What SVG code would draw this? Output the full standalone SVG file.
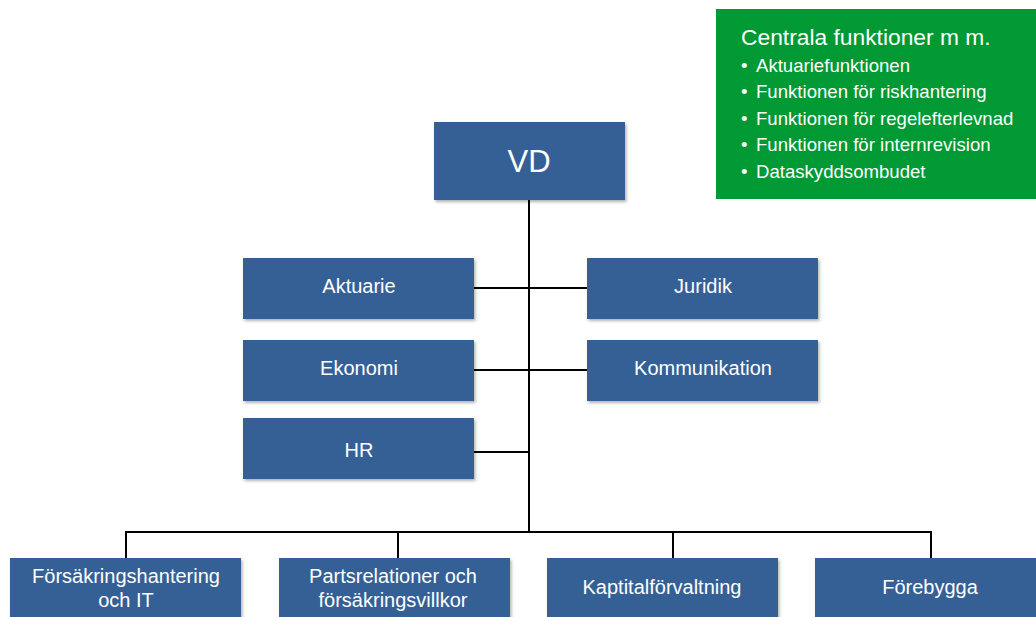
<svg xmlns="http://www.w3.org/2000/svg" width="1036" height="617" viewBox="0 0 1036 617">
<style>
.box{fill:#346195;filter:url(#sh)}
.lbl{font-family:"Liberation Sans",Arial,sans-serif;font-size:20px;fill:#ffffff;text-anchor:middle}
.gt{font-family:"Liberation Sans",Arial,sans-serif;fill:#ffffff}
.ln{stroke:#000000;stroke-width:2;fill:none}
</style>
<defs>
<filter id="sh" x="-5%" y="-10%" width="115%" height="130%">
<feDropShadow dx="1.5" dy="2" stdDeviation="1.5" flood-color="#000000" flood-opacity="0.3"/>
</filter>
</defs>
<rect width="1036" height="617" fill="#ffffff"/>
<g id="connectors">
<line class="ln" x1="529" y1="200" x2="529" y2="532"/>
<line class="ln" x1="474" y1="288" x2="587" y2="288"/>
<line class="ln" x1="474" y1="370" x2="587" y2="370"/>
<line class="ln" x1="474" y1="452" x2="529" y2="452"/>
<polyline class="ln" points="126,558 126,532 931,532 931,558"/>
<line class="ln" x1="398" y1="532" x2="398" y2="558"/>
<line class="ln" x1="673" y1="532" x2="673" y2="558"/>
</g>
<g id="central">
<rect x="716" y="9" width="320" height="190" fill="#009933"/>
<text class="gt" x="741" y="45" font-size="22.8">Centrala funktioner m m.</text>
<g font-size="18.6">
<text class="gt" x="741" y="72">•</text><text class="gt" x="756" y="72">Aktuariefunktionen</text>
<text class="gt" x="741" y="98">•</text><text class="gt" x="756" y="98">Funktionen för riskhantering</text>
<text class="gt" x="741" y="125">•</text><text class="gt" x="756" y="125">Funktionen för regelefterlevnad</text>
<text class="gt" x="741" y="151">•</text><text class="gt" x="756" y="151">Funktionen för internrevision</text>
<text class="gt" x="741" y="178">•</text><text class="gt" x="756" y="178">Dataskyddsombudet</text>
</g>
</g>
<g id="vd">
<rect class="box" x="434" y="122" width="191" height="78"/>
<text class="lbl" x="529" y="172" style="font-size:31px">VD</text>
</g>
<g id="aktuarie">
<rect class="box" x="243" y="258" width="231" height="61"/>
<text class="lbl" x="359" y="293">Aktuarie</text>
</g>
<g id="juridik">
<rect class="box" x="587" y="258" width="231" height="61"/>
<text class="lbl" x="703" y="293">Juridik</text>
</g>
<g id="ekonomi">
<rect class="box" x="243" y="340" width="231" height="61"/>
<text class="lbl" x="359" y="375">Ekonomi</text>
</g>
<g id="kommunikation">
<rect class="box" x="587" y="340" width="231" height="61"/>
<text class="lbl" x="703" y="375">Kommunikation</text>
</g>
<g id="hr">
<rect class="box" x="243" y="418" width="231" height="61"/>
<text class="lbl" x="359" y="457">HR</text>
</g>
<g id="forsakringshantering">
<rect class="box" x="10" y="558" width="231" height="65"/>
<text class="lbl" x="126" y="583">Försäkringshantering</text>
<text class="lbl" x="126" y="607">och IT</text>
</g>
<g id="partsrelationer">
<rect class="box" x="279" y="558" width="231" height="65"/>
<text class="lbl" x="393" y="583">Partsrelationer och</text>
<text class="lbl" x="393" y="607">försäkringsvillkor</text>
</g>
<g id="kapitalforvaltning">
<rect class="box" x="547" y="558" width="231" height="65"/>
<text class="lbl" x="662" y="594">Kaptitalförvaltning</text>
</g>
<g id="forebygga">
<rect class="box" x="815" y="558" width="231" height="65"/>
<text class="lbl" x="930" y="594">Förebygga</text>
</g>
</svg>
